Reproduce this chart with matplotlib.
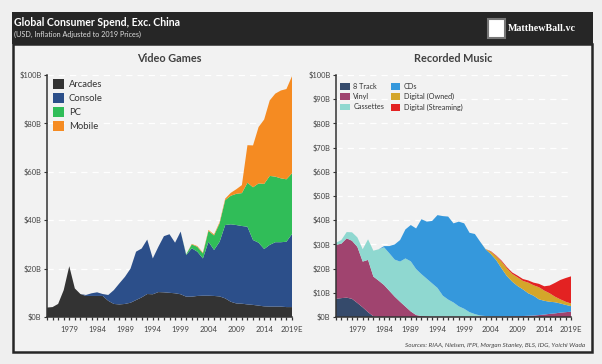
import numpy as np
import matplotlib
matplotlib.use("Agg")
import matplotlib.pyplot as plt
from matplotlib.patches import Rectangle, Patch

plt.rcParams['font.family'] = ['Lato', 'DejaVu Sans']

years = list(range(1975, 2020))

# video games, $B (stacked: arcades, console, pc, mobile)
arcades = [3.9, 4.1, 5.4, 11.1, 21.0, 11.8, 9.5, 8.7, 8.7, 8.7,
           8.7, 6.7, 5.4, 5.2, 5.4, 5.9, 7.0, 8.1, 9.5, 9.4,
           10.3, 10.2, 10.0, 9.8, 9.4, 8.4, 8.4, 8.7, 8.8, 8.8,
           8.7, 8.5, 7.7, 6.3, 5.6, 5.5, 5.2, 5.0, 4.7, 4.4,
           4.3, 4.3, 4.3, 4.1, 4.1]
console = [0, 0, 0, 0, 0, 0, 0, 0.4, 1.1, 1.5,
           0.8, 2.4, 5.7, 8.7, 11.2, 14.1, 20.0, 20.2, 22.5, 14.8,
           18.7, 23.2, 24.2, 20.9, 25.9, 17.2, 20.0, 18.3, 15.4, 22.3,
           19.0, 22.6, 30.3, 32.0, 32.4, 32.1, 32.1, 26.8, 26.0, 23.7,
           25.5, 26.6, 26.6, 27.0, 30.2]
pc = [0] * 25 + [0.3, 1.6, 2.0, 2.1, 4.5,
                 6.0, 7.6, 10.3, 11.8, 12.9, 13.6, 18.2, 21.8, 24.5, 26.9,
                 28.5, 27.1, 26.4, 25.8, 25.1]
mobile = [0] * 26 + [0.2, 0.3, 0.3, 0.4,
                     0.4, 0.5, 0.6, 1.2, 1.9, 3.3, 15.5, 17.3, 23.3, 26.6,
                     31.2, 34.3, 36.3, 37.3, 40.1]

# recorded music, $B (stacked)
eight_track = [7.5, 7.8, 8.0, 7.5, 5.8, 4.0, 2.0, 0.3] + [0] * 37
vinyl = [22.3, 22.5, 24.5, 24.0, 23.2, 18.9, 21.6, 16.4, 15.0, 13.2,
         10.8, 8.4, 6.3, 4.3, 2.3, 0.8, 0.4, 0.3, 0.2, 0.2,
         0.2, 0.2, 0.2, 0.2, 0.2, 0.2, 0.2, 0.2, 0.2, 0.2,
         0.2, 0.2, 0.2, 0.3, 0.3, 0.4, 0.5, 0.6, 0.8, 1.0,
         1.3, 1.5, 1.8, 2.0, 2.2]
cassettes = [0.9, 1.5, 2.6, 3.5, 3.9, 5.1, 8.5, 10.7, 13.0, 15.6,
             15.5, 15.3, 16.6, 19.9, 20.7, 19.0, 17.3, 15.5, 13.7, 11.8,
             8.6, 7.0, 5.8, 4.2, 3.2, 1.8, 1.0, 0.4, 0.2, 0.1] + [0] * 15
cds = [0] * 9 + [0.5,
       3.0, 6.3, 8.9, 12.0, 15.0, 16.8, 22.7, 23.6, 25.8, 30.1,
       32.9, 34.3, 32.7, 35.0, 35.3, 32.8, 33.1, 30.5, 27.6, 25.7,
       23.3, 19.9, 16.7, 14.3, 12.5, 11.0, 9.3, 8.2, 6.5, 5.7,
       5.0, 4.6, 3.8, 3.0, 2.3]
digital_owned = [0] * 28 + [0.1, 1.0,
                            1.6, 2.8, 3.2, 3.2, 3.6, 3.5, 4.4, 4.3, 5.0, 4.2,
                            3.5, 2.3, 1.7, 1.3, 1.1]
digital_stream = [0] * 29 + [0.2,
                             0.3, 0.4, 0.5, 0.6, 0.7, 0.8, 0.9, 1.1, 1.4, 1.8,
                             3.2, 5.7, 8.0, 9.8, 11.2]

game_labels = ['Arcades', 'Console', 'PC', 'Mobile']
game_colors = ['#333333', '#2c4f8a', '#30bd58', '#f58b22']
music_labels = ['8 Track', 'Vinyl', 'Cassettes', 'CDs', 'Digital (Owned)', 'Digital (Streaming)']
music_colors = ['#354a6b', '#a0446f', '#8fd8d0', '#3598dc', '#d4a62a', '#e32222']

W, H = 602, 364
fig = plt.figure(figsize=(W / 100, H / 100), dpi=100)
fig.patch.set_facecolor('#efefef')

def px(x, y, w, h):
    return [x / W, 1 - (y + h) / H, w / W, h / H]

# panel frame + dark header, drawn behind the axes
fig.patches.append(Rectangle((12.5 / W, 1 - 352 / H), 579.5 / W, 308 / H, transform=fig.transFigure,
                             facecolor='#f2f2f2', edgecolor='#262626', linewidth=1.8, zorder=-5))
fig.patches.append(Rectangle((11.5 / W, 1 - 44 / H), 581 / W, 32 / H, transform=fig.transFigure,
                             facecolor='#262626', edgecolor='none', zorder=-4))
fig.text(14 / W, 1 - 23 / H, 'Global Consumer Spend, Exc. China', color='white',
         fontsize=7.6, fontweight='bold', va='center', ha='left')
fig.text(14 / W, 1 - 34 / H, '(USD, Inflation Adjusted to 2019 Prices)', color='#dddddd',
         fontsize=5.2, va='center', ha='left')
fig.patches.append(Rectangle((488 / W, 1 - 38 / H), 17 / W, 19 / H, transform=fig.transFigure,
                             facecolor='white', edgecolor='#777777', linewidth=1.5, zorder=-3))
fig.text(508 / W, 1 - 28.5 / H, 'MatthewBall.vc', color='white', fontsize=7.2,
         fontweight='bold', family=['Liberation Serif'], va='center', ha='left')
fig.text(585 / W, 1 - 345 / H, 'Sources: RIAA, Nielsen, IFPI, Morgan Stanley, BLS, IDG, Yoichi Wada',
         fontsize=4.6, style='italic', color='#444444', ha='right', va='center')


def style_axes(ax, ystep, title):
    ax.set_facecolor('none')
    ax.set_xlim(1975, 2019)
    ax.set_ylim(0, 100)
    for s in ['top', 'right']:
        ax.spines[s].set_visible(False)
    for s in ['left', 'bottom']:
        ax.spines[s].set_color('#333333')
        ax.spines[s].set_linewidth(1.1)
        ax.spines[s].set_zorder(3)
    ax.set_yticks(np.arange(0, 101, ystep))
    ax.set_yticklabels(['$%dB' % v for v in np.arange(0, 101, ystep)])
    for v in np.arange(ystep, 101, ystep):
        ax.axhline(v, color='white', linewidth=0.9, linestyle=(0, (5, 4)), zorder=0.5)
    maj = list(range(1979, 2020, 5))
    ax.set_xticks(maj)
    ax.set_xticklabels([str(y) for y in maj[:-1]] + ['2019E'])
    ax.set_xticks(years, minor=True)
    ax.tick_params(axis='x', which='both', direction='out', length=2.5, width=0.9,
                   color='#333333', labelsize=5.6, labelcolor='#444444', pad=4)
    ax.tick_params(axis='y', direction='out', length=2, width=0.8, color='#333333',
                   labelsize=5.4, labelcolor='#444444', pad=2)
    ax.set_title(title, fontsize=7.8, color='#404040', pad=9, fontweight='bold')


ax1 = fig.add_axes(px(47, 75, 245, 242))
style_axes(ax1, 20, 'Video Games')
ax1.stackplot(years, arcades, console, pc, mobile, colors=game_colors,
              linewidth=0, zorder=2)
h1 = [Patch(facecolor=c, edgecolor='none') for c in game_colors]
ax1.legend(h1, game_labels, loc='upper left', bbox_to_anchor=(0.0, 1.005), frameon=False,
           fontsize=6.8, handlelength=1.2, handleheight=1.2, handletextpad=0.5,
           labelspacing=0.42, borderaxespad=0.2, labelcolor='#333333')

ax2 = fig.add_axes(px(336, 75, 235, 242))
style_axes(ax2, 10, 'Recorded Music')
ax2.stackplot(years, eight_track, vinyl, cassettes, cds, digital_owned, digital_stream,
              colors=music_colors, linewidth=0, zorder=2)
h2 = [Patch(facecolor=c, edgecolor='none') for c in music_colors]
ax2.legend(h2, music_labels, loc='upper left', bbox_to_anchor=(0.0, 0.985), ncol=2,
           frameon=False, fontsize=5.2, handlelength=1.3, handleheight=1.1,
           handletextpad=0.5, labelspacing=0.45, columnspacing=0.9, borderaxespad=0.2,
           labelcolor='#333333')

fig.savefig('out.png', dpi=100, facecolor=fig.get_facecolor())
